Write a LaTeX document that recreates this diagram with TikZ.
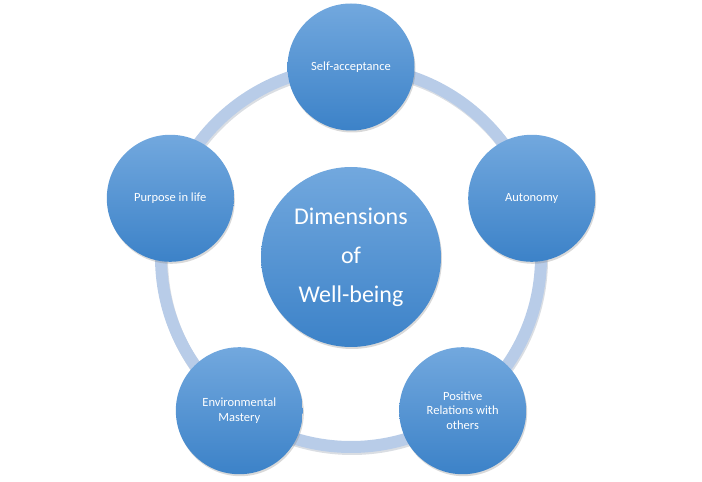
\documentclass[tikz,border=0pt]{standalone}
\usepackage{fontspec}
\setmainfont{Carlito}
\usepackage{tikz}
\usetikzlibrary{shadows}
\definecolor{ringblue}{RGB}{184,204,232}
\definecolor{ringshade}{RGB}{150,160,175}
\definecolor{disctop}{RGB}{114,168,222}
\definecolor{discbottom}{RGB}{60,130,200}

\begin{document}
\begin{tikzpicture}[x=1pt, y=1pt,
  disc/.style={circle, minimum size=127pt, inner sep=0pt, align=center,
    top color=disctop, bottom color=discbottom, text=white,
    font=\fontsize{12.5}{14.5}\selectfont,
    drop shadow={shadow xshift=1pt, shadow yshift=-2pt, opacity=0.3}},
  hub/.style={disc, minimum size=180pt, font=\fontsize{24}{39}\selectfont},
  ring/.style={draw=ringblue, line width=12pt},
  ringshadow/.style={draw=ringshade, line width=12pt, opacity=0.35}
]
\useasboundingbox (0,0) rectangle (702,482);

% Ring behind the five dimensions.
\coordinate (mid) at (351,225);
\draw[ringshadow] ([shift={(1,-2)}]mid) circle (190);
\draw[ring] (mid) circle (190);

% Centre and the five dimensions.
\node[hub] (well) at (mid) {Dimensions\\of\\Well-being};
\node[disc] (self) at ([shift={(90:190)}]mid) {Self-acceptance};
\node[disc] (auto) at ([shift={(18:190)}]mid) {Autonomy};
\node[disc] (rel) at ([shift={(-54:190)}]mid) {Positive\\Relations with\\others};
\node[disc] (env) at ([shift={(234:190)}]mid) {Environmental\\Mastery};
\node[disc] (purp) at ([shift={(162:190)}]mid) {Purpose in life};

\end{tikzpicture}
\end{document}
